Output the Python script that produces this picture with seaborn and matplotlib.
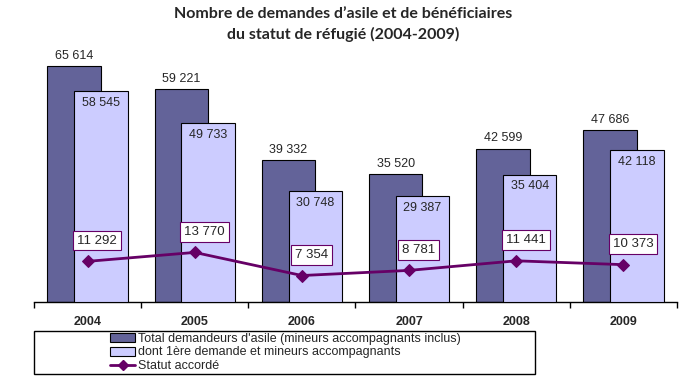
import numpy as np
import matplotlib.pyplot as plt
import matplotlib.patches as mpatches
import matplotlib.lines as mlines
import seaborn as sns

years = ['2004', '2005', '2006', '2007', '2008', '2009']
total = [65614, 59221, 39332, 35520, 42599, 47686]
premiere = [58545, 49733, 30748, 29387, 35404, 42118]
statut = [11292, 13770, 7354, 8781, 11441, 10373]

lbl_total = "Total demandeurs d'asile (mineurs accompagnants inclus)"
lbl_prem = "dont 1ère demande et mineurs accompagnants"
lbl_stat = "Statut accordé"

c_dark = '#636399'
c_light = '#ccccff'
c_line = '#660066'


def fmt(v):
    return f'{v:,}'.replace(',', ' ')


sns.set_style('white')
plt.rcParams['font.family'] = ['Liberation Sans', 'DejaVu Sans']

fig = plt.figure(figsize=(6.87, 3.77), dpi=100)
ax = fig.add_axes([34 / 687, 1 - 302 / 377, 643 / 687, 252 / 377])

x = np.arange(len(years))
ax.bar(x - 0.125, total, width=0.5, color=c_dark, edgecolor='black', linewidth=0.8, zorder=2)
ax.bar(x + 0.125, premiere, width=0.5, color=c_light, edgecolor='black', linewidth=0.8, zorder=3)
sns.lineplot(x=x, y=statut, ax=ax, color=c_line, linewidth=2, marker='D',
             markersize=6, markeredgecolor=c_line, zorder=4)

for i in range(len(years)):
    ax.annotate(fmt(total[i]), (x[i] - 0.125, total[i]), xytext=(0, 3),
                textcoords='offset points', ha='center', va='bottom', fontsize=9)
    ax.annotate(fmt(premiere[i]), (x[i] + 0.125, premiere[i]), xytext=(0, -4),
                textcoords='offset points', ha='center', va='top', fontsize=9)
    ax.annotate(fmt(statut[i]), (x[i], statut[i]), xytext=(7, 15),
                textcoords='offset points', ha='center', va='center', fontsize=9.5,
                bbox=dict(boxstyle='square,pad=0.3', fc='white', ec=c_line, lw=0.8),
                zorder=5)

ax.set_xlim(-0.5, 5.5)
ax.set_ylim(0, 70000)
ax.set_yticks([])
for s in ['left', 'right', 'top']:
    ax.spines[s].set_visible(False)
ax.spines['bottom'].set_color('black')
ax.spines['bottom'].set_linewidth(1)

ax.set_xticks(np.arange(-0.5, 6, 1))
ax.set_xticklabels([])
ax.tick_params(axis='x', which='major', direction='out', length=4, width=1, color='black', bottom=True)
ax.set_xticks(x, minor=True)
ax.set_xticklabels(years, minor=True, fontweight='bold', fontsize=9)
ax.tick_params(axis='x', which='minor', length=0, pad=10)

fig.text(0.5, 1 - 7 / 377, "Nombre de demandes d\u2019asile et de bénéficiaires\ndu statut de réfugié (2004-2009)",
         ha='center', va='top', fontsize=11.5, fontweight='bold', family=['Lato', 'DejaVu Sans'],
         linespacing=1.5)

handles = [
    mpatches.Patch(facecolor=c_dark, edgecolor='black', linewidth=0.8),
    mpatches.Patch(facecolor=c_light, edgecolor='black', linewidth=0.8),
    mlines.Line2D([], [], color=c_line, linewidth=2, marker='D', markersize=5),
]
fig.legend(handles, [lbl_total, lbl_prem, lbl_stat], loc='upper left',
           bbox_to_anchor=(110 / 687, 1 - 333 / 377), frameon=False, fontsize=9,
           borderpad=0, borderaxespad=0, handlelength=2.0, handleheight=0.7,
           handletextpad=0.25, labelspacing=0.12)
fig.add_artist(mpatches.Rectangle((34 / 687, 1 - 374 / 377), 501 / 687, 43 / 377,
                                  transform=fig.transFigure, fill=False, ec='black', lw=1))

fig.savefig('out.png', dpi=100)
